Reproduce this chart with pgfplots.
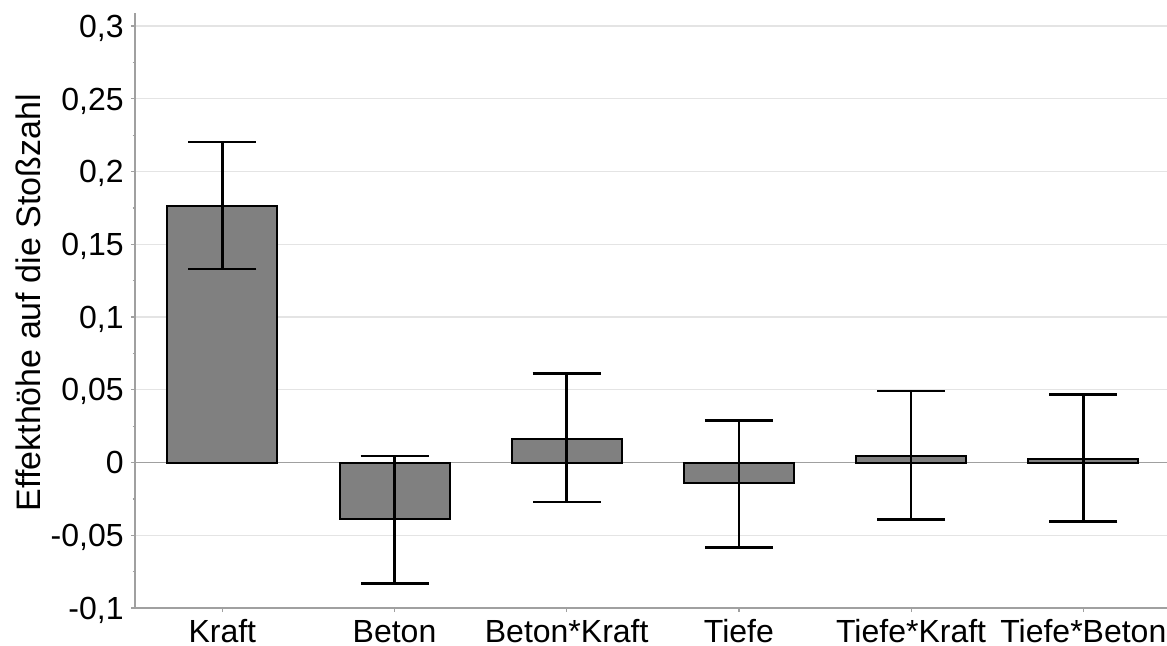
\documentclass[border=0pt]{standalone}
\usepackage{fontspec}
\setmainfont{Liberation Sans}
\usepackage{pgfplots}
\pgfplotsset{compat=1.18}
\usetikzlibrary{calc}
\definecolor{barfill}{RGB}{128,128,128}
\definecolor{gridc}{RGB}{228,228,228}
\definecolor{axisc}{RGB}{160,160,160}
\pgfplotstableread{
x y ep em
0 0.1763 0.0440 0.0433
1 -0.0390 0.0435 0.0440
2 0.0165 0.0448 0.0435
3 -0.0139 0.0429 0.0444
4 0.0045 0.0447 0.0436
5 0.0024 0.0445 0.0428
}\effects
\begin{document}
\fontsize{16pt}{19pt}\selectfont
\begin{tikzpicture}
\begin{axis}[
  scale only axis,
  width=516pt, height=297.5pt,
  xmin=-0.507, xmax=5.486,
  ymin=-0.1, ymax=0.309,
  axis x line*=bottom, axis y line*=left,
  axis line style={axisc, line width=0.75pt},
  ytick={-0.1,-0.05,0,0.05,0.1,0.15,0.2,0.25,0.3},
  minor ytick={-0.075,-0.025,0.025,0.075,0.125,0.175,0.225,0.275},
  xtick={0,1,2,3,4,5},
  xticklabels={Kraft,Beton,Beton*Kraft,Tiefe,Tiefe*Kraft,Tiefe*Beton},
  x tick label style={anchor=base, inner sep=0pt, yshift=-15pt},
  y tick label style={anchor=base east, inner sep=0pt, xshift=-3.5pt, yshift=-5.6pt},
  tick align=outside,
  major tick length=2pt, minor tick length=1.2pt,
  tick style={axisc, line width=0.6pt},
  ymajorgrids,
  major grid style={gridc, line width=0.6pt},
  scaled y ticks=false,
  yticklabel style={/pgf/number format/.cd, use comma, fixed, precision=2},
  /pgf/number format/assume math mode=true,
  ylabel={Effekthöhe auf die Stoßzahl},
  ylabel style={at={(axis description cs:-0.1037,0.513)}, anchor=center, font=\fontsize{17pt}{20pt}\selectfont},
  clip=false,
]
\draw[axisc, line width=0.75pt] (axis cs:-0.507,0) -- (axis cs:5.486,0);
\addplot[ybar, bar width=55pt, fill=barfill, draw=black, line width=1pt,
  error bars/.cd, y dir=both, y explicit,
  error bar style={black, line width=1.3pt},
  error mark options={rotate=90, black, line width=1.3pt, mark size=17pt}]
  table[x=x, y=y, y error plus=ep, y error minus=em] {\effects};
\end{axis}
\pgfresetboundingbox
\path ($(current axis.south west)+(-67.5pt,-18.5pt)$) rectangle ($(current axis.north east)+(0pt,6.5pt)$);
\end{tikzpicture}
\end{document}
